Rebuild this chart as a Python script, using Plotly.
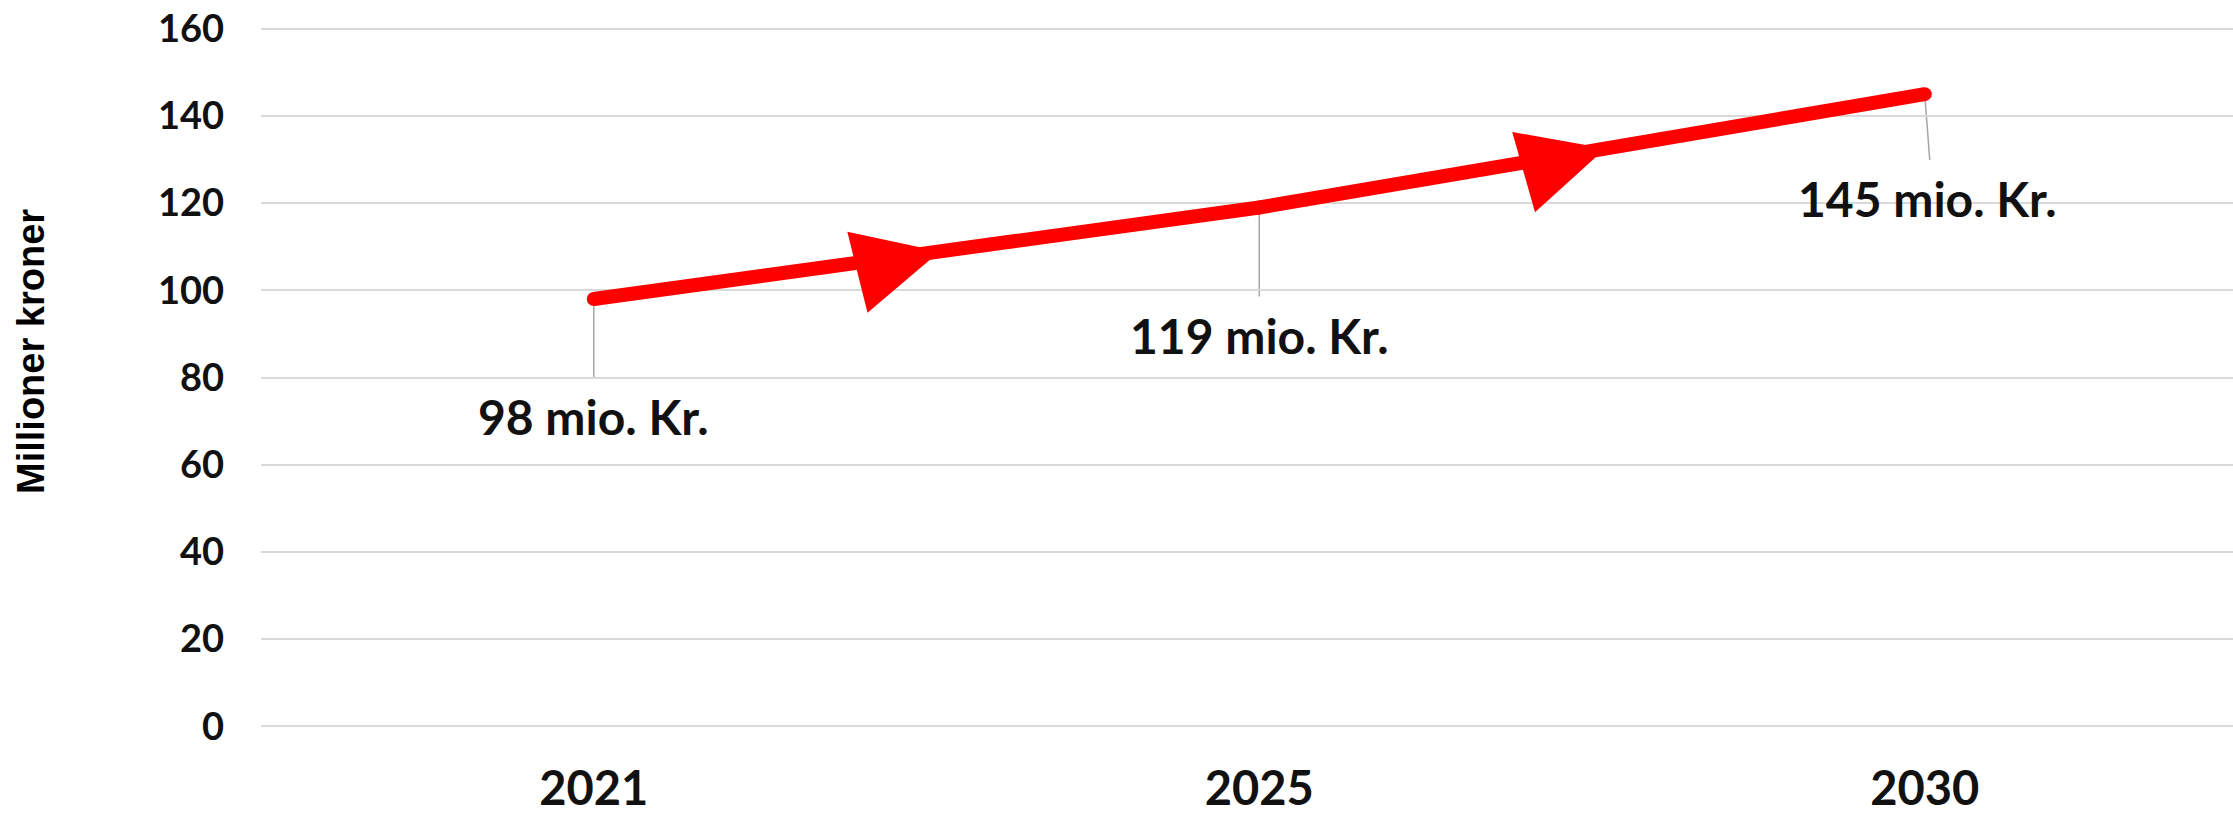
import math
import plotly.graph_objects as go

# ---- data ----
years = ["2021", "2025", "2030"]
values = [98, 119, 145]
labels = ["98 mio. Kr.", "119 mio. Kr.", "145 mio. Kr."]
y_ticks = [0, 20, 40, 60, 80, 100, 120, 140, 160]
y_title = "Millioner kroner"

# ---- style / layout constants ----
FIG_W, FIG_H = 2233, 814
M_L, M_R, M_T, M_B = 261, 0, 27, 86
CAT_PX = 665.5
PLOT_W = FIG_W - M_L - M_R
PLOT_H = FIG_H - M_T - M_B
X_RANGE = [-0.5, -0.5 + PLOT_W / CAT_PX]
Y_RANGE = [-0.4, 160.4]
Y_PX = PLOT_H / (Y_RANGE[1] - Y_RANGE[0])

RED = "#ff0000"
GREY = "#a6a6a6"
TXT = "#111111"
LATO = "Lato, Carlito, Calibri, sans-serif"
LABEL_FONT = dict(family=LATO, size=48, color=TXT, weight="bold")
label_offsets = [(0, 117), (0, 128), (3, 104)]     # label centre offset from point (px)
leader_ends = [(0, 78), (0, 89), (5, 66)]          # leader line end offset from point (px)
ARROW_FRAC = 0.52
ARROW_LOCAL = [(0, 0), (-89, -32), (-80, 51)]      # (along, across) px, tip first

fig = go.Figure()
fig.add_trace(go.Scatter(
    x=years, y=values, mode="lines+markers",
    line=dict(color=RED, width=14),
    marker=dict(size=14, color=RED),
    hoverinfo="x+y", showlegend=False,
))

annotations = []
shapes = []
for i, (v, lab, (ox, oy), (lx, ly)) in enumerate(zip(values, labels, label_offsets, leader_ends)):
    annotations.append(dict(
        x=i, y=v, xref="x", yref="y", text=lab, showarrow=False,
        xanchor="center", yanchor="middle", xshift=ox, yshift=-oy,
        font=LABEL_FONT,
    ))
    shapes.append(dict(
        type="line", xref="x", yref="y",
        xsizemode="pixel", ysizemode="pixel", xanchor=i, yanchor=v,
        x0=0, y0=0, x1=lx, y1=-ly,
        line=dict(color=GREY, width=1.5), layer="below",
    ))

annotations.append(dict(
    text=y_title, textangle=-90, showarrow=False,
    xref="paper", yref="paper",
    x=(31 - M_L) / PLOT_W, y=(FIG_H - M_B - 352) / PLOT_H,
    xanchor="center", yanchor="middle",
    font=dict(family="Liberation Sans, Arial, sans-serif", size=38, color="#000000", weight="bold"),
))

for i in range(len(values) - 1):
    dv = values[i + 1] - values[i]
    theta = math.atan2(dv * Y_PX, CAT_PX)
    c, s = math.cos(theta), math.sin(theta)
    pts = []
    for u, w in ARROW_LOCAL:
        sx = u * c + w * s
        sy = -u * s + w * c
        pts.append((sx, -sy))
    path = "M{:.1f},{:.1f} L{:.1f},{:.1f} L{:.1f},{:.1f} Z".format(
        pts[0][0], pts[0][1], pts[1][0], pts[1][1], pts[2][0], pts[2][1])
    shapes.append(dict(
        type="path", xref="x", yref="y",
        xsizemode="pixel", ysizemode="pixel",
        xanchor=i + ARROW_FRAC, yanchor=values[i] + ARROW_FRAC * dv,
        path=path, fillcolor=RED, line=dict(width=0), layer="above",
    ))

fig.update_layout(
    width=FIG_W, height=FIG_H,
    margin=dict(l=M_L, r=M_R, t=M_T, b=M_B, pad=0, autoexpand=False),
    paper_bgcolor="white", plot_bgcolor="white",
    annotations=annotations, shapes=shapes,
    showlegend=False,
    xaxis=dict(
        type="category", range=X_RANGE, showgrid=False, zeroline=False,
        showline=False, ticks="", ticklabelstandoff=29, automargin=False,
        ticklabeloverflow="allow",
        tickfont=dict(family=LATO, size=47, color=TXT, weight="bold"),
    ),
    yaxis=dict(
        range=Y_RANGE, tickvals=y_ticks, showgrid=True, gridcolor="#d9d9d9", gridwidth=2,
        zeroline=False, showline=False, ticks="", ticklabelstandoff=36, automargin=False,
        ticklabeloverflow="allow",
        tickfont=dict(family=LATO, size=38, color=TXT, weight="bold"),
    ),
)

fig.write_html(
    "out.html",
    config={"displayModeBar": False},
    post_script="document.body.style.margin='0px';document.body.style.overflow='hidden';",
)
